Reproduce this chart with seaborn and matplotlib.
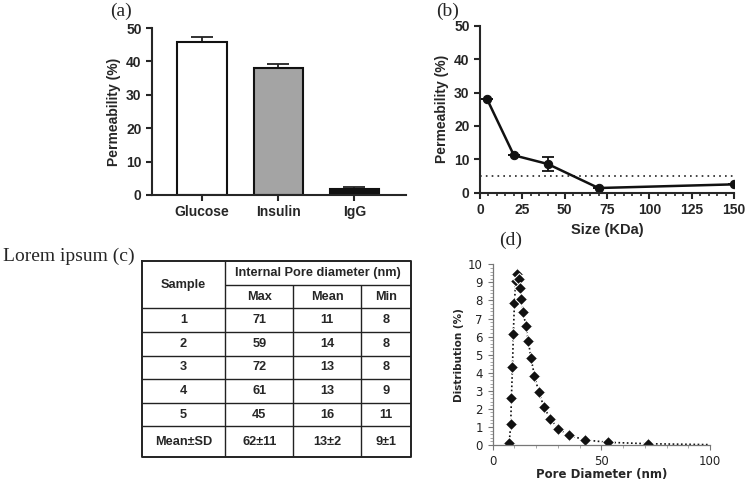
import matplotlib
matplotlib.use("Agg")
import matplotlib.pyplot as plt
from matplotlib.ticker import MultipleLocator
import seaborn as sns
import numpy as np

sns.set_style("ticks")
plt.rcParams['font.family'] = ['Liberation Sans', 'DejaVu Sans']

# (a) permeability by molecule
molecules = ['Glucose', 'Insulin', 'IgG']
perm_mean = [45.8, 38.0, 1.7]
perm_err = [1.4, 1.3, 0.8]
bar_colors = ['#ffffff', '#a4a4a4', '#111111']

# (b) permeability vs molecular size
size_kda = [4, 20, 40, 70, 150]
perm_size = [28.2, 11.2, 8.6, 1.4, 2.5]
perm_size_err = [0, 0, 2.0, 0, 0]
cutoff = 5

# (c) pore diameter table
samples = ['1', '2', '3', '4', '5', 'Mean±SD']
pore_max = ['71', '59', '72', '61', '45', '62±11']
pore_mean = ['11', '14', '13', '13', '16', '13±2']
pore_min = ['8', '8', '8', '9', '11', '9±1']

# (d) pore diameter distribution
pore_d = [7.0, 7.6, 8.3, 8.6, 9.1, 9.5, 10.0, 10.6, 11.2, 11.9, 12.6, 13.2, 14.1,
          15.2, 16.4, 17.6, 19.2, 21.2, 23.6, 26.5, 30.2, 35.1, 42.5, 52.9, 71.3, 100]
dist = [0.0, 0.1, 1.16, 2.58, 4.3, 6.14, 7.86, 9.07, 9.44, 9.2, 8.7, 8.06, 7.36,
        6.6, 5.76, 4.82, 3.84, 2.93, 2.1, 1.44, 0.9, 0.54, 0.28, 0.15, 0.07, 0.02]

W, H = 746, 484
fig = plt.figure(figsize=(W / 100, H / 100), dpi=100)


def box(l, t, r, b):
    return [l / W, 1 - b / H, (r - l) / W, (b - t) / H]


bold = dict(fontweight='bold', fontsize=10)

# ---- (a)
ax = fig.add_axes(box(152, 28, 406, 195))
ax.errorbar(range(3), perm_mean, yerr=perm_err, fmt='none', ecolor='#222222',
            elinewidth=1.3, capsize=8, capthick=1.3, zorder=1)
sns.barplot(x=molecules, y=perm_mean, hue=molecules, palette=bar_colors, legend=False,
            edgecolor='#111111', linewidth=1.5, width=0.65, ax=ax, zorder=2)
ax.set_xlim(-0.66, 2.68)
ax.set_ylim(0, 50)
ax.set_yticks(range(0, 51, 10))
ax.set_ylabel('Permeability (%)', **bold)
ax.set_xlabel('')
ax.tick_params(width=1.5, length=4)
for lab in ax.get_xticklabels() + ax.get_yticklabels():
    lab.set_fontweight('bold')
    lab.set_fontsize(10)
sns.despine(ax=ax)
for s in ['left', 'bottom']:
    ax.spines[s].set_linewidth(1.5)

# ---- (b)
ax = fig.add_axes(box(480, 25.7, 734, 192.7))
ax.axhline(cutoff, ls=(0, (1, 2.5)), color='#222222', lw=1.2)
sns.lineplot(x=size_kda, y=perm_size, marker='o', markersize=6, color='#111111',
             lw=1.8, ax=ax, markeredgecolor='#111111')
ax.errorbar(size_kda, perm_size, yerr=perm_size_err, fmt='none', ecolor='#111111',
            elinewidth=1.3, capsize=4, capthick=1.3)
ax.set_xlim(0, 150)
ax.set_ylim(0, 50)
ax.set_xticks(range(0, 151, 25))
ax.xaxis.set_minor_locator(MultipleLocator(5))
ax.set_yticks(range(0, 51, 10))
ax.set_ylabel('Permeability (%)', **bold)
ax.set_xlabel('Size (KDa)', fontweight='bold', fontsize=10.5)
ax.tick_params(width=1.5, length=4)
ax.tick_params(which='minor', width=1.2, length=2.5)
for lab in ax.get_xticklabels() + ax.get_yticklabels():
    lab.set_fontweight('bold')
    lab.set_fontsize(10)
sns.despine(ax=ax)
for s in ['left', 'bottom']:
    ax.spines[s].set_linewidth(1.5)

# ---- (c) table
col_w = [83.6, 68, 67.4, 50]
row_h = [23.8, 23.6] + [23.6] * 5 + [31]
ax = fig.add_axes(box(141.7, 261, 410.7, 457.3))
tw, th = sum(col_w), sum(row_h)
ax.set_xlim(0, tw)
ax.set_ylim(th, 0)
ax.axis('off')
cx = np.concatenate([[0], np.cumsum(col_w)])
ry = np.concatenate([[0], np.cumsum(row_h)])
lc = '#222222'
ax.plot([0, tw, tw, 0, 0], [0, 0, th, th, 0], color=lc, lw=1.4, clip_on=False)
ax.hlines(ry[1], cx[1], tw, color=lc, lw=1)
ax.hlines(ry[2:-1], 0, tw, color=lc, lw=1)
ax.vlines(cx[1], 0, th, color=lc, lw=1)
ax.vlines(cx[2:-1], ry[1], th, color=lc, lw=1)
tkw = dict(ha='center', va='center', fontweight='bold', fontsize=9.2)
ax.text(cx[1] / 2, ry[2] / 2, 'Sample', **tkw)
ax.text((cx[1] + tw) / 2, ry[1] / 2, 'Internal Pore diameter (nm)', **tkw)
for j, h in enumerate(['Max', 'Mean', 'Min']):
    ax.text((cx[j + 1] + cx[j + 2]) / 2, (ry[1] + ry[2]) / 2, h, **tkw)
for i, row in enumerate(zip(samples, pore_max, pore_mean, pore_min)):
    yc = (ry[i + 2] + ry[i + 3]) / 2
    for j, v in enumerate(row):
        ax.text((cx[j] + cx[j + 1]) / 2, yc, v, **tkw)

# ---- (d)
ax = fig.add_axes(box(492.7, 264.3, 710, 445))
sns.lineplot(x=pore_d, y=dist, marker='D', markersize=6, color='#111111',
             linestyle=(0, (1, 1.5)), lw=1.2, sort=False, ax=ax,
             markevery=list(range(len(pore_d) - 1)))
ax.set_xlim(0, 100)
ax.set_ylim(0, 10)
ax.set_xticks([0, 50, 100])
ax.xaxis.set_minor_locator(MultipleLocator(10))
ax.set_yticks(range(0, 11))
ax.yaxis.set_minor_locator(MultipleLocator(0.2))
ax.tick_params(colors='#777777', labelcolor='#222222', labelsize=8.5, length=3.5, width=0.8)
ax.tick_params(which='minor', colors='#999999', length=2, width=0.6)
for lab in ax.get_xticklabels() + ax.get_yticklabels():
    lab.set_family('DejaVu Sans')
ax.set_xlabel('Pore Diameter (nm)', fontweight='bold', fontsize=8.5, family='DejaVu Sans', labelpad=0)
ax.set_ylabel('Distribution (%)', fontweight='bold', fontsize=7.5, family='DejaVu Sans', labelpad=3)
sns.despine(ax=ax)
for s in ['left', 'bottom']:
    ax.spines[s].set_linewidth(0.9)
    ax.spines[s].set_color('#777777')

# panel labels
serif = dict(family='Liberation Serif', fontsize=14, va='center')
fig.text(110 / W, 1 - 11.5 / H, '(a)', **serif)
fig.text(436 / W, 1 - 11.5 / H, '(b)', **serif)
fig.text(3 / W, 1 - 256 / H, 'Lorem ipsum (c)', **serif)
fig.text(499 / W, 1 - 240 / H, '(d)', **serif)

fig.savefig('out.png', dpi=100)
